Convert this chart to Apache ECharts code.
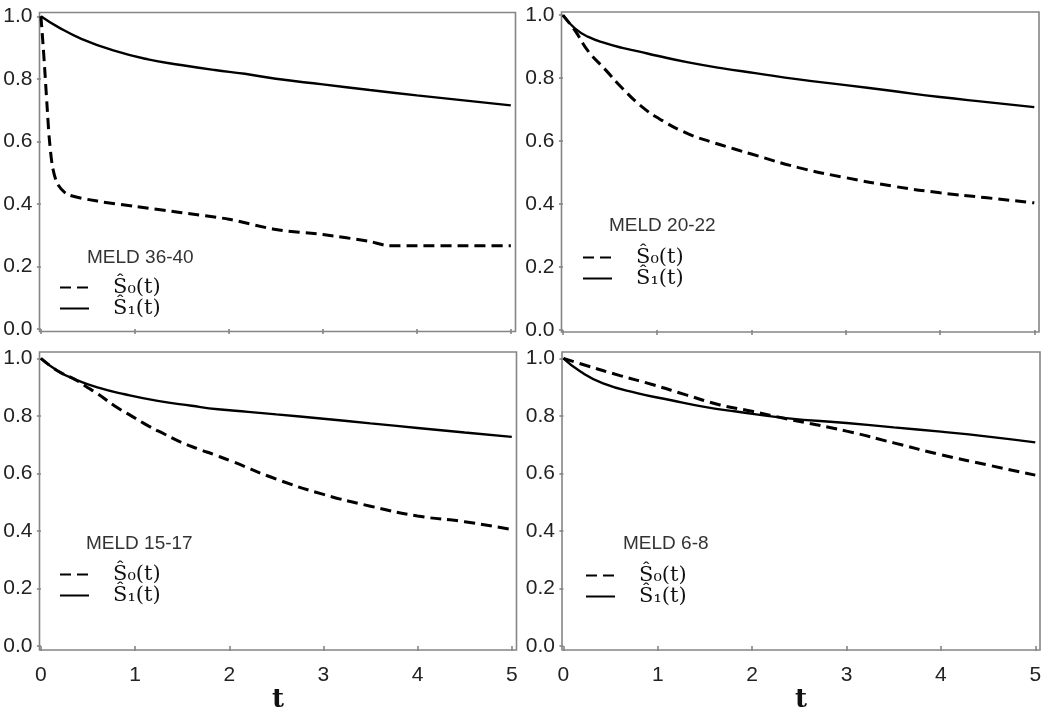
<!DOCTYPE html>
<html>
<head>
<meta charset="utf-8">
<script src="https://cdn.jsdelivr.net/npm/echarts@6/dist/echarts.min.js"></script>
<style>
html,body{margin:0;padding:0;background:#fff;}
#chart{width:1050px;height:715px;}
</style>
</head>
<body>
<div id="chart"></div>
<script>
// ---------- data ----------
const panelTitles = ['MELD 36-40', 'MELD 20-22', 'MELD 15-17', 'MELD 6-8'];
const seriesNames = ['Ŝ₀(t)', 'Ŝ₁(t)'];
const yTicks = [0, 0.2, 0.4, 0.6, 0.8, 1.0];
const xTicks = [0, 1, 2, 3, 4, 5];

// MELD 36-40
const t36_S0 = [0, 0.025, 0.045, 0.065, 0.09, 0.124, 0.178, 0.285, 0.6, 1, 1.5, 2, 2.5, 3, 3.5, 3.7, 4, 4.5, 5];
const v36_S0 = [1.0, 0.90, 0.81, 0.715, 0.606, 0.518, 0.463, 0.43, 0.409, 0.392, 0.372, 0.351, 0.318, 0.302, 0.28, 0.266, 0.266, 0.266, 0.266];
const t36_S1 = [0, 0.18, 0.43, 0.78, 1.14, 1.49, 1.85, 2.17, 2.5, 3, 3.5, 4, 4.5, 5];
const v36_S1 = [1.0, 0.966, 0.928, 0.89, 0.862, 0.844, 0.828, 0.816, 0.80, 0.782, 0.764, 0.747, 0.731, 0.715];

// MELD 20-22
const t20_S0 = [0, 0.13, 0.27, 0.45, 0.63, 0.84, 1.05, 1.33, 1.58, 1.82, 2.0, 2.5, 3, 3.5, 4, 4.5, 5];
const v20_S0 = [1.0, 0.95, 0.885, 0.827, 0.768, 0.709, 0.666, 0.623, 0.597, 0.575, 0.559, 0.516, 0.484, 0.457, 0.436, 0.42, 0.404];
const t20_S1 = [0, 0.13, 0.27, 0.45, 0.63, 0.8, 1, 1.33, 1.68, 2.04, 2.5, 3, 3.5, 4, 4.5, 5];
const v20_S1 = [1.0, 0.957, 0.931, 0.911, 0.896, 0.885, 0.871, 0.85, 0.832, 0.816, 0.796, 0.778, 0.759, 0.74, 0.724, 0.708];

// MELD 15-17
const t15_S0 = [0, 0.18, 0.36, 0.47, 0.61, 0.78, 0.96, 1.14, 1.31, 1.49, 1.67, 1.84, 2.02, 2.5, 3, 3.5, 4, 4.5, 5];
const v15_S0 = [1.0, 0.956, 0.927, 0.904, 0.875, 0.835, 0.80, 0.765, 0.737, 0.708, 0.685, 0.665, 0.643, 0.58, 0.527, 0.486, 0.452, 0.432, 0.405];
const t15_S1 = [0, 0.18, 0.36, 0.61, 0.89, 1.24, 1.6, 1.88, 2.2, 2.5, 3, 3.5, 4, 4.5, 5];
const v15_S1 = [1.0, 0.956, 0.927, 0.898, 0.875, 0.852, 0.835, 0.823, 0.814, 0.805, 0.79, 0.774, 0.758, 0.742, 0.727];

// MELD 6-8
const t6_S0 = [0, 0.25, 0.6, 0.95, 1.3, 1.66, 2.01, 2.36, 3, 3.5, 4, 4.5, 5];
const v6_S0 = [1.0, 0.974, 0.94, 0.908, 0.873, 0.838, 0.815, 0.79, 0.747, 0.706, 0.665, 0.629, 0.594];
const t6_S1 = [0, 0.18, 0.42, 0.78, 1.13, 1.48, 1.83, 2.36, 3, 3.5, 4, 4.5, 5];
const v6_S1 = [1.0, 0.954, 0.913, 0.879, 0.855, 0.832, 0.815, 0.792, 0.775, 0.76, 0.745, 0.728, 0.708];

const panelData = [
  [[t36_S0, v36_S0], [t36_S1, v36_S1]],
  [[t20_S0, v20_S0], [t20_S1, v20_S1]],
  [[t15_S0, v15_S0], [t15_S1, v15_S1]],
  [[t6_S0, v6_S0], [t6_S1, v6_S1]]
];

// ---------- layout ----------
const grids = [
  {left: 39.5, top: 12.5, width: 476, height: 319},
  {left: 561.5, top: 12, width: 477.5, height: 320},
  {left: 39.5, top: 352, width: 477, height: 298},
  {left: 562, top: 352, width: 478, height: 298}
];
const yRanges = [[-0.008, 1.012], [-0.006, 1.01], [-0.014, 1.022], [-0.014, 1.022]];
const titlePos = [[87, 248], [609, 216], [86, 534], [623, 534]];
const legendPos = [[59, 277], [582, 247], [59, 564], [585, 565]];

const frameColor = '#858585';
const textColor = '#222';
const sansFont = 'Liberation Sans, Arial, sans-serif';

const option = {
  backgroundColor: '#fff',
  animation: false,
  grid: grids.map(g => Object.assign({show: true, borderColor: frameColor, borderWidth: 1.6,
    backgroundColor: 'transparent', containLabel: false, outerBoundsMode: 'none'}, g)),
  xAxis: grids.map((g, i) => ({
    type: 'value', gridIndex: i, min: -0.015, max: 5.05,
    axisLine: {show: false},
    splitLine: {show: false},
    axisTick: {show: true, customValues: xTicks, length: 5, lineStyle: {color: frameColor, width: 1.6}},
    axisLabel: {show: i >= 2, customValues: xTicks, color: textColor, fontSize: 21, fontFamily: sansFont, margin: 15},
    name: i >= 2 ? 't' : '',
    nameLocation: 'middle', nameGap: 37,
    nameTextStyle: {fontFamily: 'DejaVu Serif, serif', fontWeight: 'bold', fontSize: 26, color: '#111'}
  })),
  yAxis: grids.map((g, i) => ({
    type: 'value', gridIndex: i, min: yRanges[i][0], max: yRanges[i][1],
    axisLine: {show: false},
    splitLine: {show: false},
    axisTick: {show: true, customValues: yTicks, length: 4, lineStyle: {color: frameColor, width: 1.6}},
    axisLabel: {customValues: yTicks, color: textColor, fontSize: 21, fontFamily: sansFont, margin: 7,
      formatter: v => v.toFixed(1)}
  })),
  title: panelTitles.map((t, i) => ({
    text: t, left: titlePos[i][0], top: titlePos[i][1], padding: 0,
    textStyle: {fontFamily: sansFont, fontSize: 19, fontWeight: 'normal', color: '#333'}
  })),
  legend: panelTitles.map((t, i) => ({
    data: seriesNames, orient: 'vertical', left: legendPos[i][0], top: legendPos[i][1],
    padding: 0, itemGap: 0, itemWidth: 29, itemHeight: 14, selectedMode: false,
    itemStyle: {opacity: 0},
    textStyle: {fontFamily: 'DejaVu Serif, serif', fontSize: 21, color: '#111', padding: [0, 0, 0, 19]}
  })),
  series: []
};

panelData.forEach((pd, i) => {
  pd.forEach((sd, k) => {
    const [ts, vs] = sd;
    option.series.push({
      type: 'line', name: seriesNames[k], xAxisIndex: i, yAxisIndex: i,
      data: ts.map((t, j) => [t, vs[j]]),
      symbol: 'none', smooth: (i === 0 && k === 0) ? 0.25 : 0.5,
      lineStyle: k === 0 ? {color: '#000', width: 3, type: [11, 6]} : {color: '#000', width: 2.4, type: 'solid'},
      itemStyle: {color: '#000', opacity: 0}
    });
  });
});

const chart = echarts.init(document.getElementById('chart'), null, {renderer: 'canvas'});
chart.setOption(option);
</script>
</body>
</html>
